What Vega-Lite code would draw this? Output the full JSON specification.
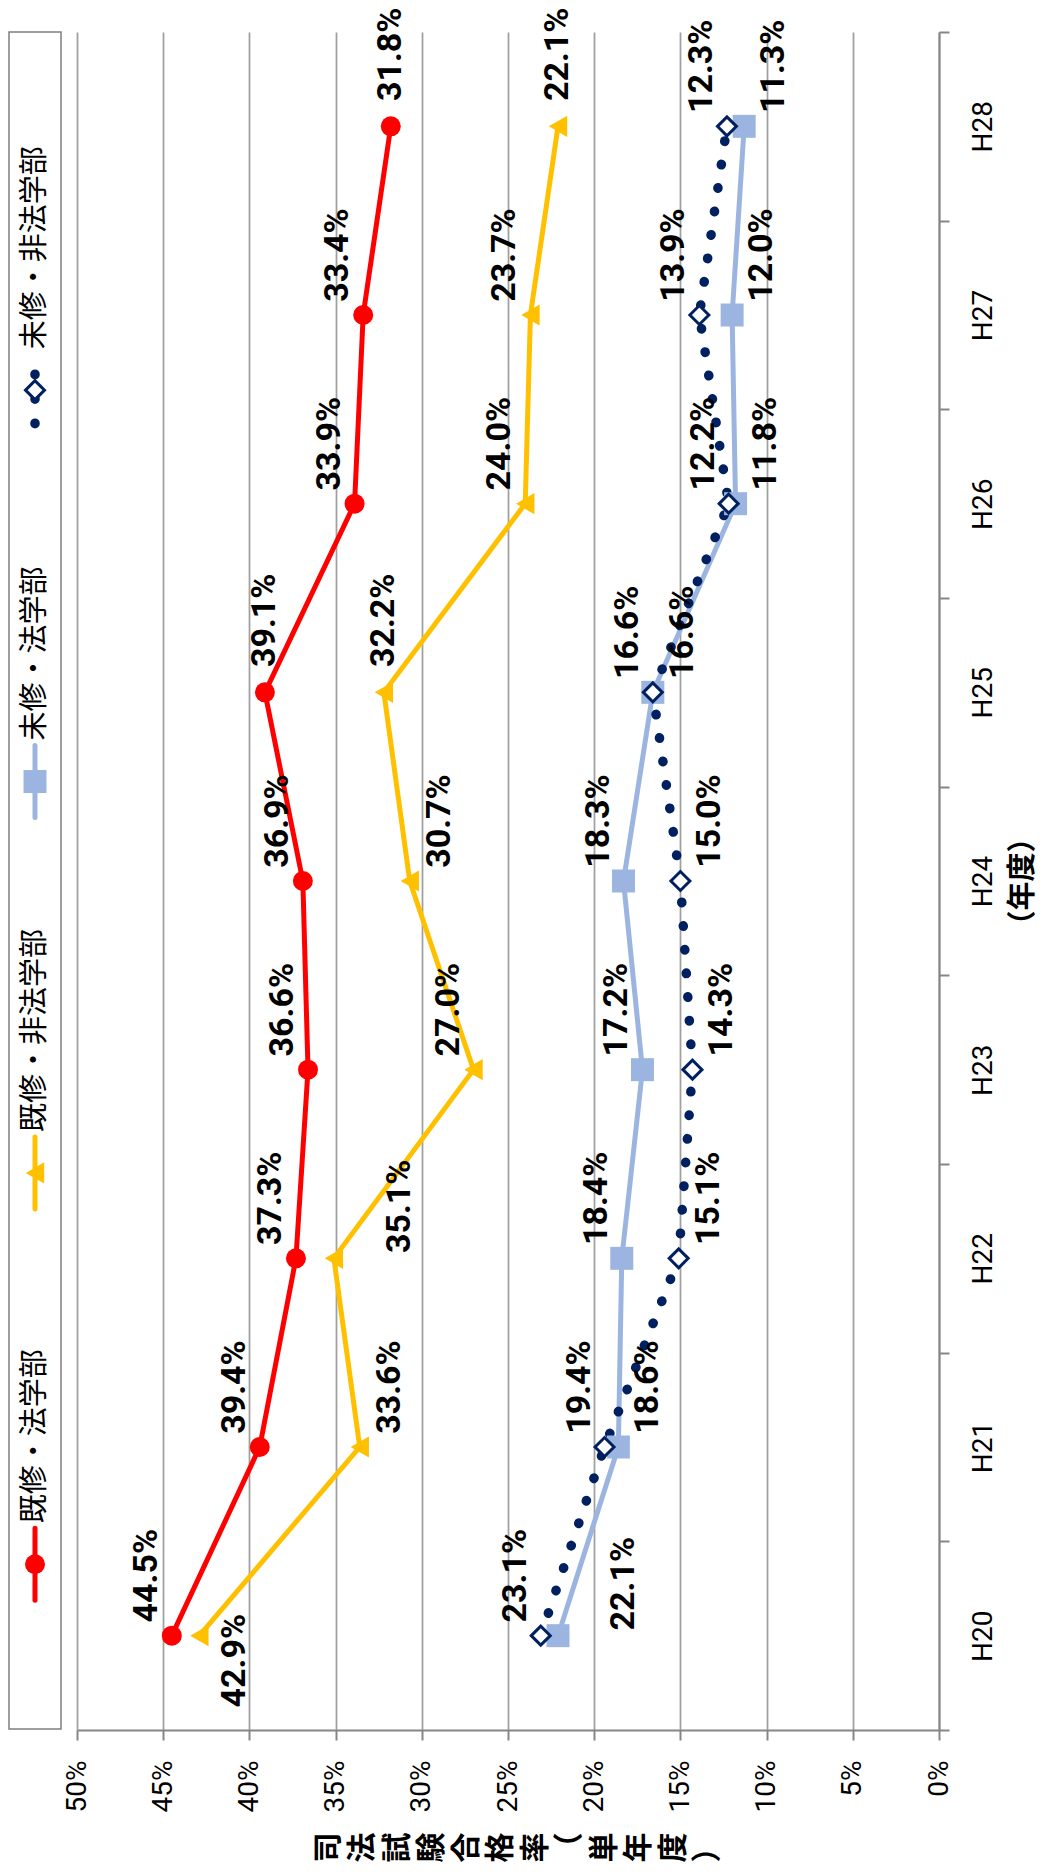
{
  "$schema": "https://vega.github.io/schema/vega-lite/v6.json",
  "background": "white",
  "padding": {"left": 8, "top": 7, "right": 6, "bottom": 4},
  "config": {"view": {"stroke": null}, "font": "Roboto"},
  "spacing": 16,
  "bounds": "flush",
  "datasets": {
    "rates": [
      {"series": "既修・法学部", "year": "H20", "pct": 0.445},
      {"series": "既修・法学部", "year": "H21", "pct": 0.394},
      {"series": "既修・法学部", "year": "H22", "pct": 0.373},
      {"series": "既修・法学部", "year": "H23", "pct": 0.366},
      {"series": "既修・法学部", "year": "H24", "pct": 0.369},
      {"series": "既修・法学部", "year": "H25", "pct": 0.391},
      {"series": "既修・法学部", "year": "H26", "pct": 0.339},
      {"series": "既修・法学部", "year": "H27", "pct": 0.334},
      {"series": "既修・法学部", "year": "H28", "pct": 0.318},
      {"series": "既修・非法学部", "year": "H20", "pct": 0.429},
      {"series": "既修・非法学部", "year": "H21", "pct": 0.336},
      {"series": "既修・非法学部", "year": "H22", "pct": 0.351},
      {"series": "既修・非法学部", "year": "H23", "pct": 0.270},
      {"series": "既修・非法学部", "year": "H24", "pct": 0.307},
      {"series": "既修・非法学部", "year": "H25", "pct": 0.322},
      {"series": "既修・非法学部", "year": "H26", "pct": 0.240},
      {"series": "既修・非法学部", "year": "H27", "pct": 0.237},
      {"series": "既修・非法学部", "year": "H28", "pct": 0.221},
      {"series": "未修・法学部", "year": "H20", "pct": 0.221},
      {"series": "未修・法学部", "year": "H21", "pct": 0.186},
      {"series": "未修・法学部", "year": "H22", "pct": 0.184},
      {"series": "未修・法学部", "year": "H23", "pct": 0.172},
      {"series": "未修・法学部", "year": "H24", "pct": 0.183},
      {"series": "未修・法学部", "year": "H25", "pct": 0.166},
      {"series": "未修・法学部", "year": "H26", "pct": 0.118},
      {"series": "未修・法学部", "year": "H27", "pct": 0.120},
      {"series": "未修・法学部", "year": "H28", "pct": 0.113},
      {"series": "未修・非法学部", "year": "H20", "pct": 0.231},
      {"series": "未修・非法学部", "year": "H21", "pct": 0.194},
      {"series": "未修・非法学部", "year": "H22", "pct": 0.151},
      {"series": "未修・非法学部", "year": "H23", "pct": 0.143},
      {"series": "未修・非法学部", "year": "H24", "pct": 0.150},
      {"series": "未修・非法学部", "year": "H25", "pct": 0.166},
      {"series": "未修・非法学部", "year": "H26", "pct": 0.122},
      {"series": "未修・非法学部", "year": "H27", "pct": 0.139},
      {"series": "未修・非法学部", "year": "H28", "pct": 0.123}
    ],
    "legend": [
      {"series": "未修・非法学部"},
      {"series": "未修・法学部"},
      {"series": "既修・非法学部"},
      {"series": "既修・法学部"}
    ]
  },
  "hconcat": [
    {
      "width": 52,
      "height": 1697,
      "view": {"stroke": "#7F7F7F", "strokeWidth": 1.5},
      "data": {"name": "legend"},
      "encoding": {
        "y": {"field": "series", "type": "nominal", "axis": null,
              "scale": {"type": "point", "domain": ["未修・非法学部", "未修・法学部", "既修・非法学部", "既修・法学部"], "padding": 0.668, "align": 0.685}}
      },
      "layer": [
        {
          "transform": [{"filter": "datum.series !== '未修・非法学部'"}],
          "mark": {"type": "rule", "yOffset": -36, "y2Offset": 36, "strokeWidth": 5, "strokeCap": "round"},
          "encoding": {
            "y2": {"field": "series"},
            "color": {"field": "series", "type": "nominal", "legend": null,
                      "scale": {"domain": ["既修・法学部", "既修・非法学部", "未修・法学部"], "range": ["#FF0000", "#FFC000", "#9BB5E0"]}}
          }
        },
        {
          "transform": [{"filter": "datum.series === '未修・非法学部'"}],
          "mark": {"type": "rule", "yOffset": -16, "y2Offset": 34, "strokeWidth": 9.5, "strokeCap": "round", "strokeDash": [0.5, 24], "color": "#002060"},
          "encoding": {"y2": {"field": "series"}}
        },
        {
          "transform": [{"filter": "datum.series === '既修・法学部'"}],
          "mark": {"type": "point", "shape": "circle", "filled": true, "color": "#FF0000", "size": 400, "opacity": 1}
        },
        {
          "transform": [{"filter": "datum.series === '既修・非法学部'"}],
          "mark": {"type": "point", "shape": "triangle-left", "filled": true, "color": "#FFC000", "size": 450, "opacity": 1}
        },
        {
          "transform": [{"filter": "datum.series === '未修・法学部'"}],
          "mark": {"type": "point", "shape": "square", "filled": true, "color": "#9BB5E0", "size": 529, "opacity": 1}
        },
        {
          "transform": [{"filter": "datum.series === '未修・非法学部'"}],
          "mark": {"type": "point", "shape": "diamond", "filled": true, "fill": "white", "stroke": "#002060", "strokeWidth": 3, "size": 361, "opacity": 1}
        },
        {
          "mark": {"type": "text", "angle": 270, "align": "left", "baseline": "middle", "dx": 41, "font": "Noto Sans CJK JP", "fontSize": 29, "color": "black"},
          "encoding": {"text": {"field": "series"}}
        }
      ]
    },
    {
      "width": 862,
      "height": 1698,
      "data": {"name": "rates"},
      "encoding": {
        "x": {"field": "pct", "type": "quantitative",
              "scale": {"domain": [0, 0.5], "reverse": true, "nice": false, "zero": true},
              "axis": {"orient": "bottom", "values": [0, 0.05, 0.1, 0.15, 0.2, 0.25, 0.3, 0.35, 0.4, 0.45, 0.5], "format": ".0%",
                       "labelAngle": 270, "labelAlign": "right", "labelBaseline": "middle", "labelFlush": false, "labelOverlap": false,
                       "labelFont": "Roboto", "labelFontSize": 28, "labelColor": "black", "labelPadding": 20,
                       "tickSize": 10, "tickColor": "#868686", "tickWidth": 2, "domainColor": "#868686", "domainWidth": 2,
                       "grid": true, "gridColor": "#A0A0A0", "gridWidth": 1.75,
                       "title": ["司", "法", "試", "験", "合", "格", "率", "（", "単", "年", "度", "）"],
                       "titleAngle": 270, "titleAlign": "right", "titleBaseline": "middle", "titleLineHeight": 34.5,
                       "titleX": 251, "titleY": 102,
                       "titleFont": "Noto Sans CJK JP", "titleFontSize": 30, "titleFontWeight": "bold", "titleColor": "black", "titlePadding": 18}},
        "y": {"field": "year", "type": "ordinal",
              "scale": {"type": "band", "domain": ["H28", "H27", "H26", "H25", "H24", "H23", "H22", "H21", "H20"], "paddingInner": 0, "paddingOuter": 0},
              "axis": {"orient": "right", "tickBand": "extent", "labelAngle": 270, "labelAlign": "center", "labelBaseline": "top",
                       "labelFont": "Roboto", "labelFontSize": 28, "labelColor": "black", "labelPadding": 20,
                       "tickSize": 10, "tickColor": "#868686", "tickWidth": 2, "domainColor": "#868686", "domainWidth": 2, "grid": false,
                       "title": "（年度）", "titleAngle": 270, "titleAlign": "center", "titleBaseline": "top",
                       "titleFont": "Noto Sans CJK JP", "titleFontSize": 29, "titleFontWeight": "bold", "titleColor": "black", "titlePadding": 11}}
      },
      "layer": [
        {
          "transform": [{"filter": "datum.series === '既修・法学部'"}],
          "mark": {"type": "line", "color": "#FF0000", "strokeWidth": 5},
          "encoding": {"order": {"field": "year"}}
        },
        {
          "transform": [{"filter": "datum.series === '既修・非法学部'"}],
          "mark": {"type": "line", "color": "#FFC000", "strokeWidth": 5},
          "encoding": {"order": {"field": "year"}}
        },
        {
          "transform": [{"filter": "datum.series === '未修・法学部'"}],
          "mark": {"type": "line", "color": "#9BB5E0", "strokeWidth": 5},
          "encoding": {"order": {"field": "year"}}
        },
        {
          "transform": [{"filter": "datum.series === '未修・非法学部'"}],
          "mark": {"type": "line", "color": "#002060", "strokeWidth": 9.5, "strokeDash": [0.5, 23.2], "strokeCap": "round"},
          "encoding": {"order": {"field": "year"}}
        },
        {
          "transform": [{"filter": "datum.series === '既修・法学部'"}],
          "mark": {"type": "point", "shape": "circle", "filled": true, "color": "#FF0000", "size": 400, "opacity": 1}
        },
        {
          "transform": [{"filter": "datum.series === '既修・非法学部'"}],
          "mark": {"type": "point", "shape": "triangle-left", "filled": true, "color": "#FFC000", "size": 450, "opacity": 1}
        },
        {
          "transform": [{"filter": "datum.series === '未修・法学部'"}],
          "mark": {"type": "point", "shape": "square", "filled": true, "color": "#9BB5E0", "size": 529, "opacity": 1}
        },
        {
          "transform": [{"filter": "datum.series === '未修・非法学部'"}],
          "mark": {"type": "point", "shape": "diamond", "filled": true, "fill": "white", "stroke": "#002060", "strokeWidth": 3, "size": 361, "opacity": 1}
        },
        {
          "transform": [{"filter": "indexof(['既修・法学部H25','既修・法学部H28','既修・非法学部H25','既修・非法学部H28'], datum.series + datum.year) >= 0"}],
          "mark": {"type": "text", "angle": 270, "align": "center", "baseline": "middle", "dx": 72, "dy": 0, "font": "Roboto", "fontSize": 34, "fontWeight": "bold", "color": "black"},
          "encoding": {"text": {"field": "pct", "type": "quantitative", "format": ".1%"}}
        },
        {
          "transform": [{"filter": "indexof(['既修・非法学部H21','既修・非法学部H24','未修・法学部H21','未修・法学部H26','未修・法学部H27','未修・法学部H28','未修・非法学部H22','未修・非法学部H23','未修・非法学部H24','未修・非法学部H25'], datum.series + datum.year) >= 0"}],
          "mark": {"type": "text", "angle": 270, "align": "center", "baseline": "middle", "dx": 60, "dy": 30, "font": "Roboto", "fontSize": 34, "fontWeight": "bold", "color": "black"},
          "encoding": {"text": {"field": "pct", "type": "quantitative", "format": ".1%"}}
        },
        {
          "transform": [{"filter": "indexof(['既修・非法学部H22','未修・法学部H20'], datum.series + datum.year) >= 0"}],
          "mark": {"type": "text", "angle": 270, "align": "center", "baseline": "middle", "dx": 52, "dy": 66, "font": "Roboto", "fontSize": 34, "fontWeight": "bold", "color": "black"},
          "encoding": {"text": {"field": "pct", "type": "quantitative", "format": ".1%"}}
        },
        {
          "transform": [{"filter": "datum.series + datum.year === '既修・非法学部H20'"}],
          "mark": {"type": "text", "angle": 270, "align": "center", "baseline": "middle", "dx": -25, "dy": 36, "font": "Roboto", "fontSize": 34, "fontWeight": "bold", "color": "black"},
          "encoding": {"text": {"field": "pct", "type": "quantitative", "format": ".1%"}}
        },
        {
          "transform": [{"filter": "indexof(['既修・法学部H20','既修・法学部H21','既修・法学部H22','既修・法学部H23','既修・法学部H24','既修・法学部H26','既修・法学部H27','既修・非法学部H23','既修・非法学部H26','既修・非法学部H27','未修・法学部H22','未修・法学部H23','未修・法学部H24','未修・法学部H25','未修・非法学部H20','未修・非法学部H21','未修・非法学部H26','未修・非法学部H27','未修・非法学部H28'], datum.series + datum.year) >= 0"}],
          "mark": {"type": "text", "angle": 270, "align": "center", "baseline": "middle", "dx": 60, "dy": -25, "font": "Roboto", "fontSize": 34, "fontWeight": "bold", "color": "black"},
          "encoding": {"text": {"field": "pct", "type": "quantitative", "format": ".1%"}}
        },
        {
          "data": {"values": [{"page": "2"}]},
          "mark": {"type": "text", "angle": 270, "align": "center", "baseline": "middle", "dx": 87, "dy": 80, "font": "Roboto", "fontSize": 20, "color": "#A6A6A6"},
          "encoding": {
            "x": {"datum": 0},
            "y": {"datum": "H28"},
            "text": {"field": "page"}
          }
        }
      ]
    }
  ]
}
